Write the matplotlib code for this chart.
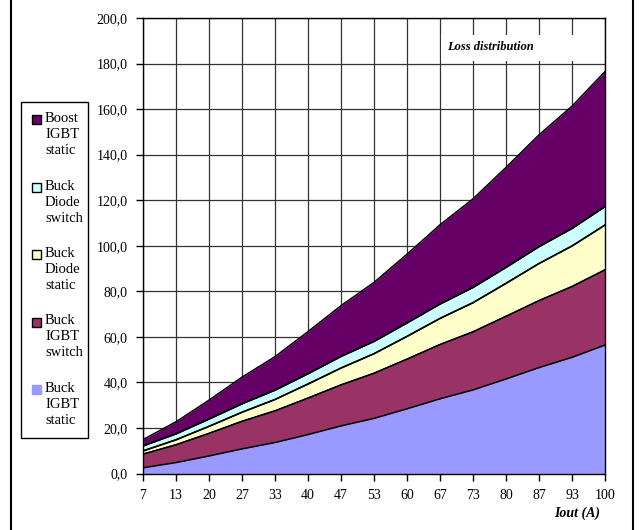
"""Loss distribution stacked area chart."""

import matplotlib
matplotlib.use('Agg')
import matplotlib.pyplot as plt
from matplotlib.patches import Rectangle
from matplotlib.lines import Line2D
import numpy as np

plt.rcParams['font.family'] = ['Liberation Serif', 'DejaVu Serif']

# Data
iout_labels = ['7', '13', '20', '27', '33', '40', '47', '53', '60', '67', '73', '80', '87', '93', '100']
buck_igbt_static = [2.5, 4.8, 7.7, 10.8, 13.6, 17.1, 20.9, 24.2, 28.4, 32.8, 36.7, 41.5, 46.5, 51.0, 56.4]
buck_igbt_switch = [6.0, 7.8, 9.9, 12.1, 13.9, 16.0, 18.0, 19.8, 21.8, 23.8, 25.5, 27.5, 29.4, 31.1, 33.0]
buck_diode_static = [1.4, 2.2, 3.1, 4.0, 5.0, 6.2, 7.4, 8.6, 10.0, 11.5, 12.8, 14.5, 16.3, 17.8, 19.7]
buck_diode_switch = [2.2, 2.6, 3.2, 3.7, 4.1, 4.5, 5.1, 5.4, 5.9, 6.3, 6.7, 7.0, 7.4, 7.7, 8.1]
boost_igbt_static = [2.8, 5.3, 8.3, 11.7, 14.7, 18.5, 22.3, 25.9, 30.2, 34.8, 38.9, 43.9, 49.1, 53.7, 59.3]

series = [buck_igbt_static, buck_igbt_switch, buck_diode_static, buck_diode_switch, boost_igbt_static]
names = ['Buck\nIGBT\nstatic', 'Buck\nIGBT\nswitch', 'Buck\nDiode\nstatic', 'Buck\nDiode\nswitch', 'Boost\nIGBT\nstatic']
colors = ['#9999FF', '#993366', '#FFFFCC', '#CCFFFF', '#660066']
edges = [False, True, True, True, True]

fig = plt.figure(figsize=(6.39, 5.30), dpi=100)
ax = fig.add_axes([0.2238, 0.1066, 0.723, 0.8594])

x = np.arange(len(iout_labels))
data = np.array(series)
cum = np.vstack([np.zeros(len(x)), np.cumsum(data, axis=0)])
for i in range(len(series)):
  ax.fill_between(x, cum[i], cum[i+1], color=colors[i], lw=0, zorder=2)
  if edges[i]:
    ax.plot(x, cum[i], color='black', lw=1.1, zorder=3)
    ax.plot(x, cum[i+1], color='black', lw=1.1, zorder=3)

ax.set_xlim(0, len(x)-1)
ax.set_ylim(0, 200)
ax.set_xticks(x)
ax.set_xticklabels(iout_labels)
yt = np.arange(0, 201, 20)
ax.set_yticks(yt)
ax.set_yticklabels([f'{v:.1f}'.replace('.', ',') for v in yt])
ax.grid(True, color='#333333', lw=0.9, zorder=1)
ax.set_axisbelow(True)
ax.tick_params(axis='both', direction='out', length=5, width=1, color='black',
               labelsize=10, pad=6)
for s in ax.spines.values():
  s.set_color('black')
  s.set_linewidth(1)
  s.set_zorder(4)

# Title box inside plot
ax.add_patch(Rectangle((0.645, 0.906), 0.35, 0.057, transform=ax.transAxes,
                       facecolor='white', edgecolor='none', zorder=5))
ax.text(0.658, 0.936, 'Loss distribution', transform=ax.transAxes, fontsize=9,
        fontweight='bold', fontstyle='italic', va='center', ha='left', zorder=6)

fig.text(0.939, 0.032, 'Iout (A)', fontsize=10, fontweight='bold', fontstyle='italic',
         ha='right', va='center')

# Outer frame (left/right edges)
fig.add_artist(Line2D([11/639, 11/639], [0, 1], color='black', lw=1.5, transform=fig.transFigure))
fig.add_artist(Line2D([633/639, 633/639], [0, 1], color='black', lw=1.5, transform=fig.transFigure))

# Manual legend
W, H = 639, 530
fig.add_artist(Rectangle((21/W, 1-438/H), 67/W, 336/H, transform=fig.transFigure,
                         facecolor='white', edgecolor='black', lw=1))
for k, idx in enumerate(range(len(series)-1, -1, -1)):
  ytop = 115 + k*67.5
  fig.add_artist(Rectangle((32/W, 1-(ytop+9)/H), 9/W, 9/H, transform=fig.transFigure,
                           facecolor=colors[idx],
                           edgecolor='black' if edges[idx] else colors[idx], lw=1))
  fig.text(45/W, 1-(ytop-3)/H, names[idx], fontsize=10.5, ha='left', va='top',
           linespacing=1.3)

fig.savefig('out.png', dpi=100)
